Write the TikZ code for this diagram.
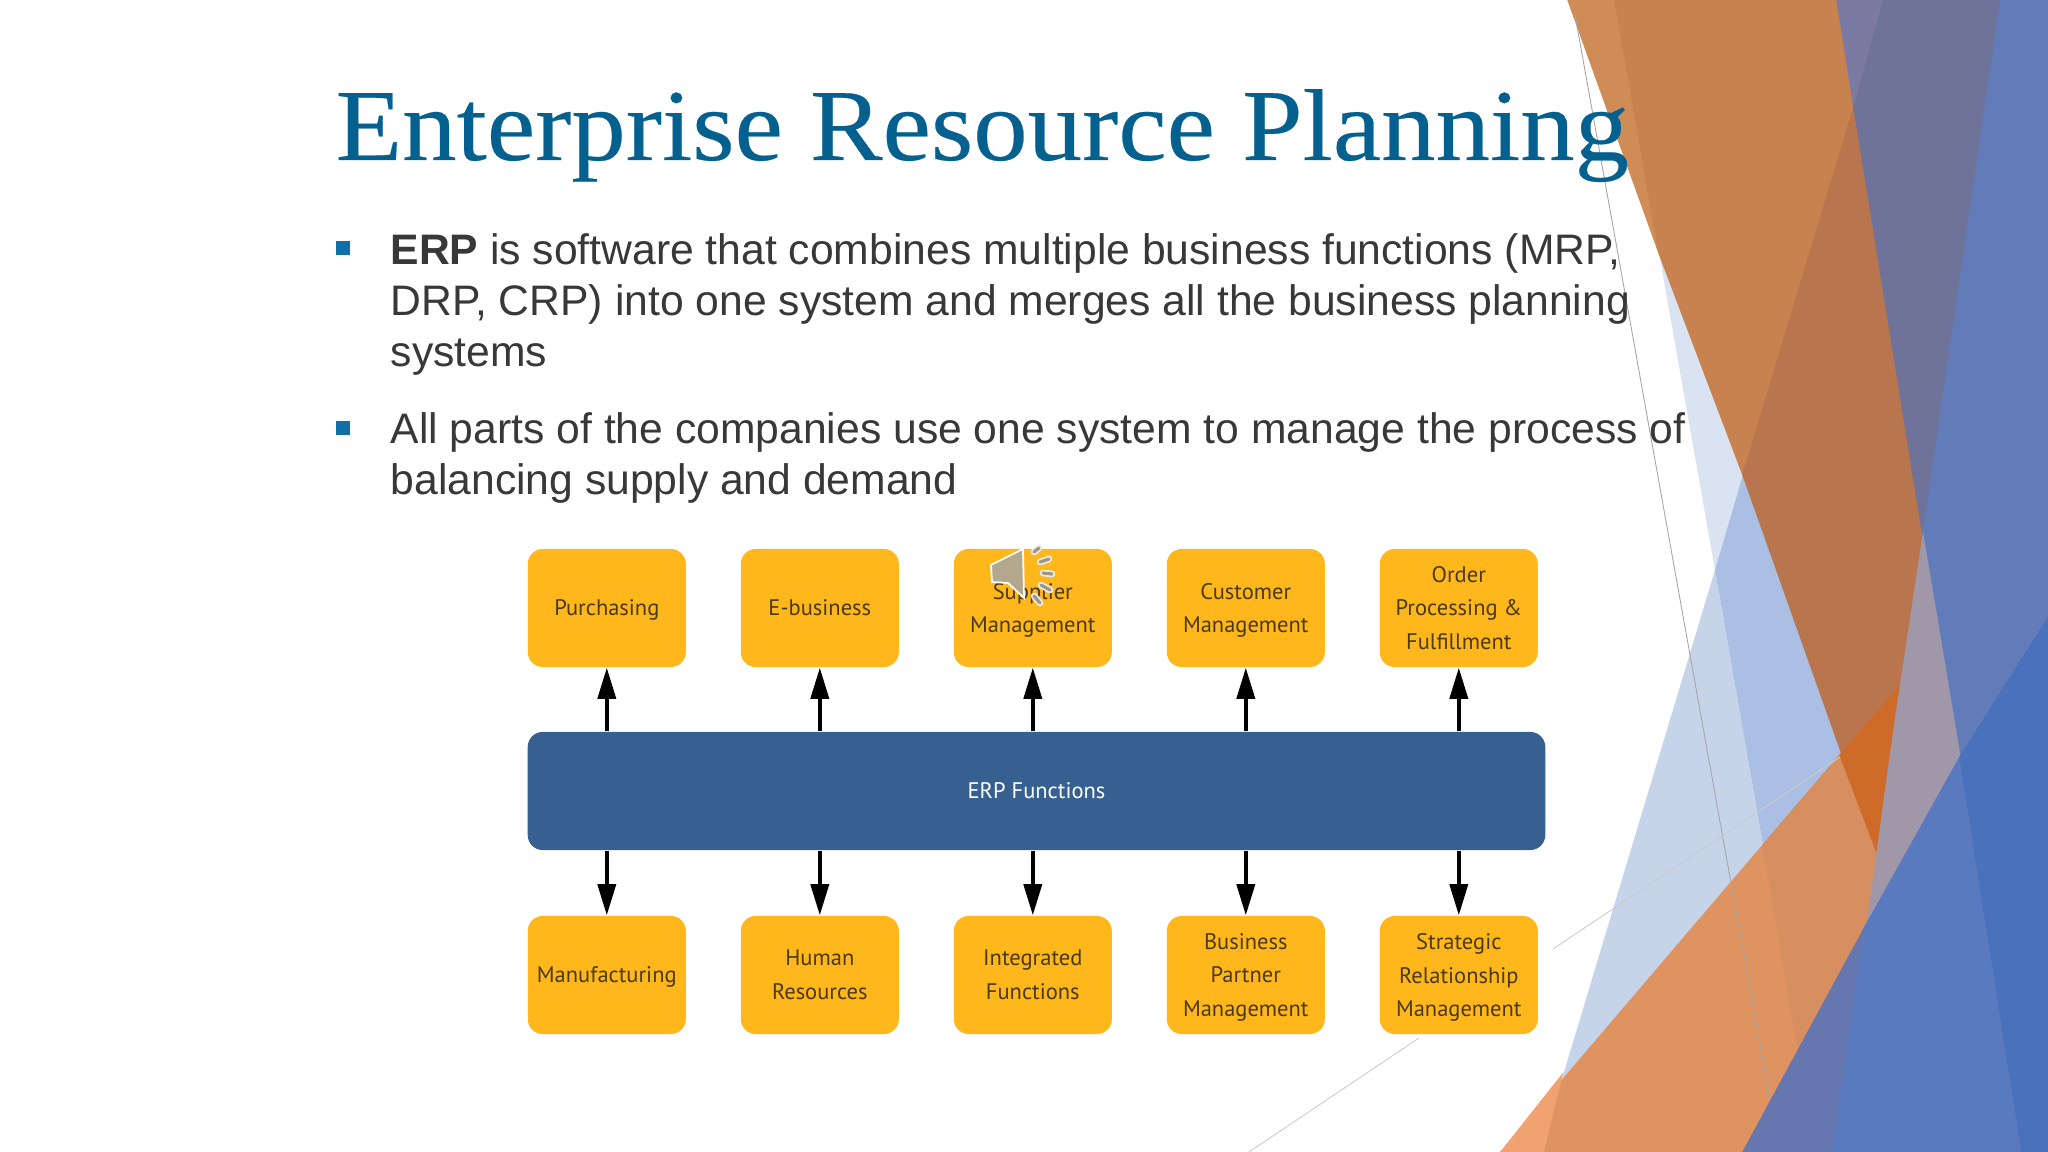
\documentclass[tikz,border=0pt]{standalone}
\usepackage{fontspec}
\setmainfont{Liberation Sans}
\newfontfamily\titlefont[FakeStretch=1.067,FakeBold=0.25]{Liberation Serif}
\newfontfamily\boxfont{PT Sans}
\usetikzlibrary{arrows.meta}
\definecolor{titleblue}{HTML}{04618F}
\definecolor{bodygray}{HTML}{383838}
\definecolor{bulletblue}{HTML}{0F6FA6}
\definecolor{boxyellow}{HTML}{FFB71B}
\definecolor{boxtext}{HTML}{4A3A10}
\definecolor{barblue}{HTML}{356090}
\definecolor{paleblue}{HTML}{D9E3F2}
\definecolor{lightblue}{HTML}{C6D4EA}
\definecolor{midblue}{HTML}{AABFE3}
\definecolor{stripblue}{HTML}{617CB9}
\definecolor{deepblue}{HTML}{4A72BC}
\definecolor{centerblue}{HTML}{5A7ABF}
\definecolor{slateblue}{HTML}{6577AE}
\definecolor{purplegray}{HTML}{6F7299}
\definecolor{purplelight}{HTML}{7A7AA3}
\definecolor{hazegray}{HTML}{A097A8}
\definecolor{orangetop}{HTML}{C8824F}
\definecolor{orangeedge}{HTML}{CF8C57}
\definecolor{orangedark}{HTML}{B9764E}
\definecolor{orangelow}{HTML}{DF9361}
\definecolor{orangelowr}{HTML}{D78E60}
\definecolor{orangepale}{HTML}{F0A271}
\definecolor{orangehot}{HTML}{CF6B29}
\definecolor{speakertan}{HTML}{B3A88E}
\newcommand{\nodepth}[1]{\raisebox{0pt}[\height][0pt]{#1}}
\tikzset{
funcbox/.style={rounded corners=0.15cm, fill=boxyellow, text=boxtext, minimum width=1.58cm,
  minimum height=1.18cm, align=center, inner sep=0pt, font=\boxfont\fontsize{6.4}{9.6}\selectfont},
flowarrow/.style={line width=1pt, black, -{Triangle[length=0.31cm,width=0.18cm]}},
bodytext/.style={anchor=north west, align=left, inner sep=0pt, text=bodygray,
  font=\fontsize{12.13}{14.5}\selectfont},
bulletmark/.style={fill=bulletblue, minimum size=0.14cm, inner sep=0pt},
patch/.style={fill=#1, draw=#1, line width=0.4pt},
speakerdash/.style={line width=1.9pt, line cap=round, draw=black!8},
speakercore/.style={line width=0.9pt, line cap=round, draw=speakertan!90!black},
}
\begin{document}
\begin{tikzpicture}[x=0.01cm,y=-0.01cm]
\useasboundingbox (0,0) rectangle (2048,1152);
\fill[white] (0,0) rectangle (2048,1152);
% pale blue pieces
\fill[paleblue] (1659,253) -- (1715,570) -- (1760,475) -- (1670,253) -- cycle;
\fill[lightblue] (1715,570) -- (1790,1000) -- (1540,1152) -- cycle;
\fill[midblue] (1715,570) -- (1743,475) -- (1760,475) -- (1850,770) -- (1790,1000) -- cycle;
% upper orange
\path[patch=orangeedge] (1568,0) -- (1615,0) -- (1659,253) -- cycle;
\path[patch=orangetop] (1615,0) -- (1837,0) -- (1854,107) -- (1743,475) -- (1659,253) -- cycle;
\path[patch=orangedark] (1854,107) -- (1923,536) -- (1876,850) -- (1743,475) -- cycle;
% purple and blue on the right
\path[patch=purplelight] (1837,0) -- (1884,0) -- (1854,107) -- cycle;
\path[patch=purplegray] (1884,0) -- (2001,0) -- (1923,536) -- (1854,107) -- cycle;
\path[patch=stripblue] (2001,0) -- (2048,0) -- (2048,618) -- (1960,757) -- (1923,536) -- cycle;
\path[patch=hazegray] (1923,536) -- (1960,757) -- (1865,927) -- (1876,850) -- cycle;
% lower orange
\path[patch=orangelow] (1840,755) -- (1501,1152) -- (1743,1152) -- (1865,927) -- (1876,850) -- cycle;
\path[patch=orangelowr] (1763,845) -- (1840,755) -- (1876,850) -- (1865,927) -- (1799,1052) -- cycle;
\path[patch=orangepale] (1501,1152) -- (1543,1152) -- (1562,1075) -- cycle;
\path[patch=orangehot] (1840,755) -- (1898,688) -- (1876,850) -- cycle;
% lower blue
\path[patch=slateblue] (1743,1152) -- (1865,927) -- (1833,1152) -- cycle;
\path[patch=centerblue] (1865,927) -- (1960,757) -- (2022,1152) -- (1833,1152) -- cycle;
\path[patch=deepblue] (1960,757) -- (2048,618) -- (2048,1152) -- (2022,1152) -- cycle;
% thin lines
\draw[gray!70, line width=0.25pt] (1575,15) -- (1770,1100);
\draw[gray!40, line width=0.25pt] (1553,949) -- (1840,757);
\draw[gray!40, line width=0.25pt] (1419,1038) -- (1249,1152);
% title and bullets
\node[anchor=base west, inner sep=0pt, text=titleblue, font=\titlefont\fontsize{29}{34}\selectfont] (title) at (335,160) {Enterprise Resource Planning};
\node[bulletmark] (markone) at (343,248) {};
\node[bodytext] (textone) at (390,233) {\textbf{ERP} is software that combines multiple business functions (MRP,\\DRP, CRP) into one system and merges all the business planning\\systems};
\node[bulletmark] (marktwo) at (343,428) {};
\node[bodytext] (texttwo) at (390,412) {All parts of the companies use one system to manage the process of\\balancing supply and demand};
% boxes
\node[funcbox] (purchasing) at (606.8,608) {\nodepth{Purchasing}};
\node[funcbox] (ebusiness) at (819.8,608) {E-business};
\node[funcbox] (supplier) at (1032.8,608) {Supplier\\\nodepth{Management}};
\node[funcbox] (customer) at (1245.8,608) {Customer\\\nodepth{Management}};
\node[funcbox] (order) at (1458.8,608) {Order\\Processing \&\\Fulfillment};
\node[funcbox, fill=barblue, text=white, minimum width=10.17cm] (erp) at (1036.5,791) {ERP Functions};
\node[funcbox] (manufacturing) at (606.8,975) {\nodepth{Manufacturing}};
\node[funcbox] (human) at (819.8,975) {Human\\Resources};
\node[funcbox] (integrated) at (1032.8,975) {Integrated\\Functions};
\node[funcbox] (partner) at (1245.8,975) {Business\\Partner\\\nodepth{Management}};
\node[funcbox] (strategic) at (1458.8,975) {Strategic\\Relationship\\\nodepth{Management}};
% arrows
\draw[flowarrow] (erp.north -| purchasing) -- (purchasing);
\draw[flowarrow] (erp.north -| ebusiness) -- (ebusiness);
\draw[flowarrow] (erp.north -| supplier) -- (supplier);
\draw[flowarrow] (erp.north -| customer) -- (customer);
\draw[flowarrow] (erp.north -| order) -- (order);
\draw[flowarrow] (erp.south -| manufacturing) -- (manufacturing);
\draw[flowarrow] (erp.south -| human) -- (human);
\draw[flowarrow] (erp.south -| integrated) -- (integrated);
\draw[flowarrow] (erp.south -| partner) -- (partner);
\draw[flowarrow] (erp.south -| strategic) -- (strategic);
% speaker
\filldraw[draw=white, line width=0.5pt, fill=speakertan] (991,565) -- (1023,549) -- (1024,598) -- (1008,583) -- (992,582) -- cycle;
\draw[speakerdash] (1034,552) -- (1039,548);
\draw[speakerdash] (1040,562) -- (1049,559);
\draw[speakerdash] (1043,573) -- (1052,574);
\draw[speakerdash] (1041,585) -- (1050,590);
\draw[speakerdash] (1034,596) -- (1040,603);
\draw[speakercore] (1034,552) -- (1039,548);
\draw[speakercore] (1040,562) -- (1049,559);
\draw[speakercore] (1043,573) -- (1052,574);
\draw[speakercore] (1041,585) -- (1050,590);
\draw[speakercore] (1034,596) -- (1040,603);
\end{tikzpicture}
\end{document}
